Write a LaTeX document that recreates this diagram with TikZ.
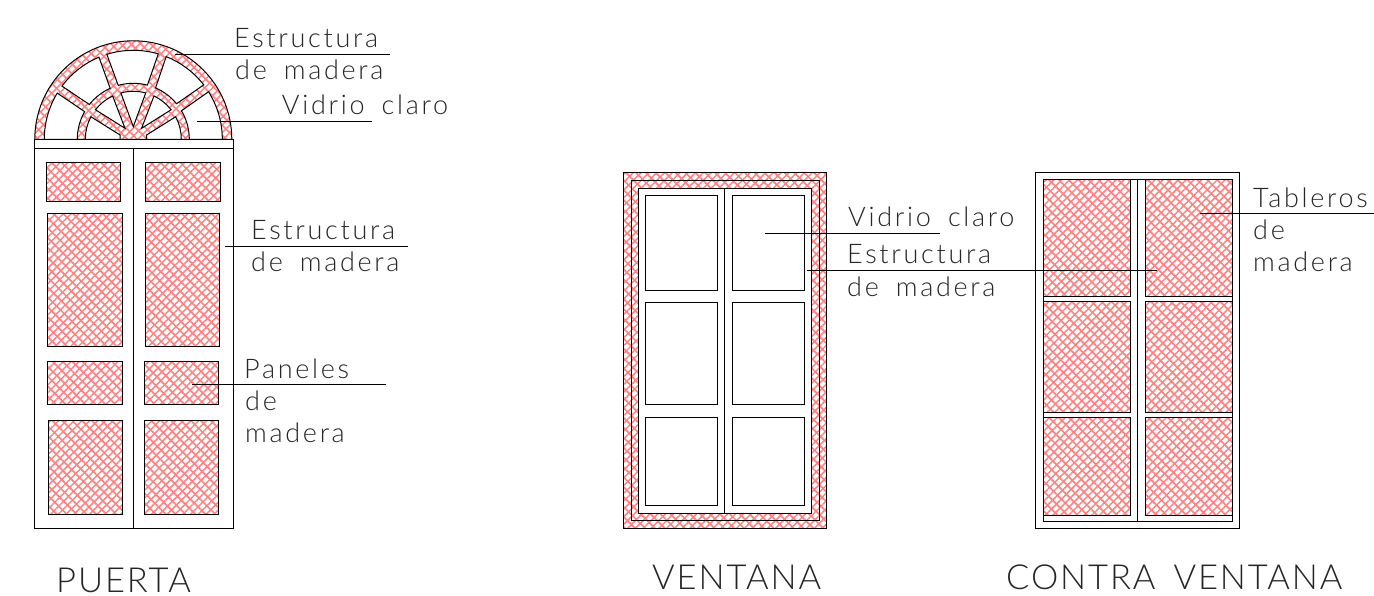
\documentclass[tikz,border=0pt]{standalone}
\usepackage{fontspec}
\setmainfont{Lato}[UprightFont={* Light},LetterSpace=10,WordSpace=1.7]
\newfontfamily\titlefont{Lato}[UprightFont={* Light},LetterSpace=5.5,WordSpace=1.6]
\usetikzlibrary{patterns.meta}
\definecolor{hatchred}{RGB}{255,130,130}
\tikzset{
  hatched/.style={
    preaction={pattern={Lines[angle=45,distance=5.5pt,line width=1.5pt]},pattern color=hatchred},
    preaction={pattern={Lines[angle=-45,distance=7pt,line width=1.7pt]},pattern color=hatchred}},
  part/.style={draw=black,line width=1pt},
  pane/.style={part,fill=white},
  leader/.style={draw=black,line width=1pt},
  note/.style={anchor=base west,inner sep=0pt,font=\fontsize{27}{27}\selectfont,text=black!85},
  title/.style={anchor=base west,inner sep=0pt,font=\titlefont\fontsize{34.5}{34.5}\selectfont,text=black!85}
}
\begin{document}
\begin{tikzpicture}[x=1pt,y=-1pt]
\useasboundingbox (0,0) rectangle (1374,596);

% Puerta: arco
\begin{scope}[shift={(133.3,139.3)},x=1pt,y=1pt]
\draw[part,hatched] (-98.5,0) arc[start angle=180,end angle=0,radius=98.5pt] -- cycle;
% Vidrios exteriores del arco
\foreach \ao/\bo/\ai/\bi in {0/32.3/0/30.6,37.7/68.3/39.4/66.6,73.7/107.3/75.4/105.6,112.7/143.3/114.4/141.6,148.7/180/150.4/180}
  \draw[pane] (\ao:89) arc[start angle=\ao,end angle=\bo,radius=89pt] -- (\bi:56)
    arc[start angle=\bi,end angle=\ai,radius=56pt] -- cycle;
% Vidrios interiores del arco
\draw[pane] (180:48) arc[start angle=180,end angle=152,radius=48pt] -- (-13.3,4.3) -- (-13.3,0) -- cycle;
\draw[pane] (142:48) arc[start angle=142,end angle=115.5,radius=48pt] -- (-8.3,11) -- cycle;
\draw[pane] (105:48) arc[start angle=105,end angle=75,radius=48pt] -- (0,12.7) -- cycle;
\draw[pane] (64.5:48) arc[start angle=64.5,end angle=38,radius=48pt] -- (8.3,11) -- cycle;
\draw[pane] (28:48) arc[start angle=28,end angle=0,radius=48pt] -- (13.3,0) -- (13.3,4.3) -- cycle;
\end{scope}

% Puerta: marco
\draw[part] (34,139.3) rectangle (233,149);
\draw[part] (34,149) rectangle (233,528);
\draw[part] (133.5,149) -- (133.5,528);

% Puerta: paneles
\foreach \xa/\ya/\xb/\yb in {46.3/162.3/120.7/201.7,145.7/162.3/220/201.7,47/214/122/346,145/214/219/346,47/361/122/404,144/361/218/404,48/420/122/514,144/420/218/514}
  \draw[part,hatched] (\xa,\ya) rectangle (\xb,\yb);

% Ventana: marco
\draw[part,hatched] (623.3,172.3) rectangle (826.7,528.3);
\draw[pane] (638.3,188.3) rectangle (811.7,513.3);
\draw[part] (631,180.7) rectangle (819.3,520.7);
\draw[part] (724.7,188.3) -- (724.7,513.3);

% Ventana: vidrios
\foreach \xa/\xb in {645.7/717.3,732.3/804.3}
  \foreach \ya/\yb in {195.7/290,302/404.3,417.3/505.7}
    \draw[part] (\xa,\ya) rectangle (\xb,\yb);

% Contra ventana: marco
\draw[part] (1035.7,172.3) rectangle (1239.3,528);
\draw[part] (1043.3,180) rectangle (1232,521);
\draw[part] (1137.5,180) -- (1137.5,521);

% Contra ventana: tableros
\foreach \xa/\xb in {1043.3/1130,1145/1232}
  \foreach \ya/\yb in {180/296,301.7/412,417.5/515}
    \draw[part,hatched] (\xa,\ya) rectangle (\xb,\yb);

% Textos
\node[note] (est1a) at (234,48) {Estructura};
\node[note] (est1b) at (235,80) {de madera};
\node[note] (vid1) at (281.7,115) {Vidrio claro};
\node[note] (est2a) at (251,240) {Estructura};
\node[note] (est2b) at (251,272) {de madera};
\node[note] (pan1) at (244,378) {Paneles};
\node[note] (pan2) at (245,410) {de};
\node[note] (pan3) at (245,442) {madera};
\node[note] (vid2) at (848,227) {Vidrio claro};
\node[note] (est3a) at (847,264) {Estructura};
\node[note] (est3b) at (847,296) {de madera};
\node[note] (tab1) at (1253,208) {Tableros};
\node[note] (tab2) at (1253,240) {de};
\node[note] (tab3) at (1253,272) {madera};
\node[title] (puerta) at (56,592) {PUERTA};
\node[title] (ventana) at (652,589) {VENTANA};
\node[title] (contra) at (1006,589) {CONTRA VENTANA};

% Lineas de referencia
\coordinate (l1a) at (175,55);   \coordinate (l1b) at (390,55);
\coordinate (l2a) at (197,122);  \coordinate (l2b) at (372,122);
\coordinate (l3a) at (225,247);  \coordinate (l3b) at (408,247);
\coordinate (l4a) at (192,384);  \coordinate (l4b) at (386,384);
\coordinate (l5a) at (765,234);  \coordinate (l5b) at (940,234);
\coordinate (l6a) at (807,271);  \coordinate (l6b) at (1157,271);
\coordinate (l7a) at (1200,214); \coordinate (l7b) at (1374,214);
\foreach \n in {1,...,7}
  \draw[leader] (l\n a) -- (l\n b);

\end{tikzpicture}
\end{document}
